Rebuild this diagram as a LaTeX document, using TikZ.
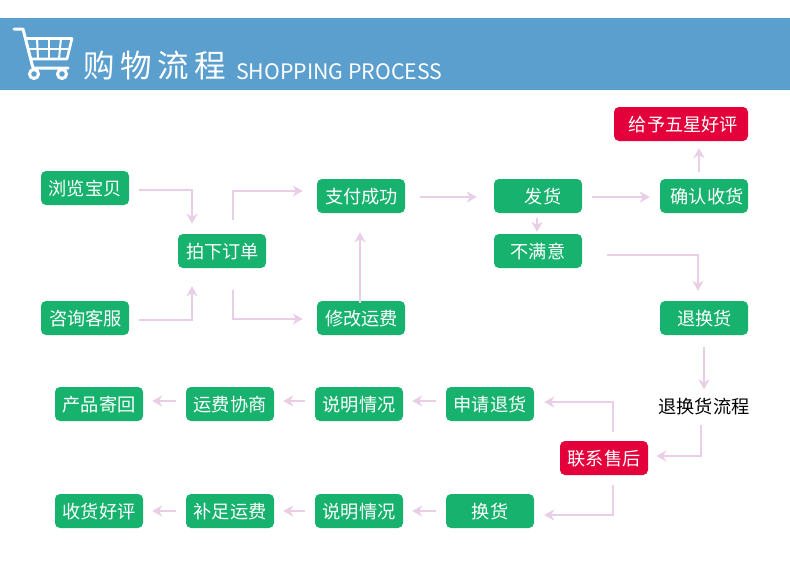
\documentclass[tikz,border=0pt]{standalone}
\usepackage{fontspec}
\setmainfont{Noto Sans CJK SC}
\usetikzlibrary{arrows.meta}
\definecolor{bannerblue}{HTML}{5B9FCE}
\definecolor{boxgreen}{HTML}{17B26E}
\definecolor{boxred}{HTML}{E4003A}
\definecolor{flowpink}{HTML}{E8CEE6}
\tikzset{
  greenbox/.style={fill=boxgreen, text=white, rounded corners=5pt, minimum width=88pt, minimum height=34pt, inner sep=0pt, text height=17pt, text depth=2pt, font=\fontsize{18.2pt}{20pt}\selectfont},
  redbox/.style={greenbox, fill=boxred},
  flow/.style={draw=flowpink, line width=2pt, -{Stealth[length=10pt,width=11pt,inset=3pt]}},
}
\begin{document}
\begin{tikzpicture}[x=1pt, y=-1pt]
  \useasboundingbox (0,0) rectangle (790,570);
  % banner
  \fill [bannerblue] (0,18) rectangle (790,90);
  \draw [white, line width=3pt, line cap=round, line join=round] (14,29) -- (23,29) -- (33,68) -- (68,68);
  \draw [white, line width=2.6pt, line join=round] (25,38.5) -- (72,38.5) -- (67,59) -- (30,59);
  \draw [white, line width=2pt] (27,48.5) -- (70,48.5);
  \foreach \xa/\xb in {37/38, 49/49, 61/59} {
    \draw [white, line width=2pt] (\xa,38) -- (\xb,59);
  }
  \draw [white, line width=3pt] (34,74) circle (4.5pt);
  \draw [white, line width=3pt] (62,74) circle (4.5pt);
  \node [anchor=base west, inner sep=0pt, text=white, font=\fontsize{31.5pt}{33pt}\selectfont\addfontfeature{LetterSpace=18}] (title) at (83,77) {购物流程};
  \node [anchor=base west, inner sep=0pt, text=white, font=\fontsize{21.3pt}{24pt}\selectfont] (subtitle) at (236,79) {SHOPPING PROCESS};

  % first rows
  \node [greenbox] (browse) at (85,188) {浏览宝贝};
  \node [greenbox] (consult) at (85,318) {\hspace{1pt}咨询客服};
  \node [greenbox] (order) at (222,251) {\hspace{1pt}拍下订单};
  \node [greenbox] (pay) at (361,196) {\hspace{1pt}支付成功};
  \node [greenbox] (modify) at (361,318) {\hspace{1pt}修改运费};
  \node [greenbox] (ship) at (538,196) {\hspace{10pt}发货};
  \node [greenbox] (unhappy) at (538,251) {不满意};
  \node [greenbox] (confirm) at (704,196) {\hspace{6pt}确认收货};
  \node [redbox, minimum width=134pt] (praise) at (681,124) {\hspace{5pt}给予五星好评};
  \node [greenbox] (return) at (704,318) {\hspace{1pt}退换货};
  \node [text=black, inner sep=0pt, font=\fontsize{18.2pt}{20pt}\selectfont] (process) at (704,407) {退换货流程};
  \node [redbox] (contact) at (604,458) {联系售后};

  % refund row
  \node [greenbox] (refund) at (490,404) {申请退货};
  \node [greenbox] (explaina) at (359,404) {说明情况};
  \node [greenbox] (freight) at (230,404) {运费协商};
  \node [greenbox] (mail) at (99,404) {产品寄回};

  % exchange row
  \node [greenbox] (exchange) at (490,511) {换货};
  \node [greenbox] (explainb) at (359,511) {说明情况};
  \node [greenbox] (topup) at (230,511) {补足运费};
  \node [greenbox] (receive) at (99,511) {收货好评};

  \draw [flow, shorten <=10pt, shorten >=10pt] ([yshift=-2pt]browse.east) -| ([xshift=-30pt]order.north);
  \draw [flow, shorten <=10pt, shorten >=18pt] ([yshift=-2pt]consult.east) -| ([xshift=-30pt]order.south);
  \draw [flow, shorten <=14pt, shorten >=14pt] ([xshift=11pt]order.north) |- ([yshift=5pt]pay.west);
  \draw [flow, shorten <=22pt, shorten >=14pt] ([xshift=11pt]order.south) |- ([yshift=-1pt]modify.west);
  \draw [flow, shorten <=-2pt, shorten >=19pt] ([xshift=-1pt]modify.north) -- ([xshift=-1pt]pay.south);
  \draw [flow, shorten <=15pt, shorten >=17pt] ([yshift=-1pt]pay.east) -- ([yshift=-1pt]ship.west);
  \draw [flow, shorten <=5pt, shorten >=2pt] ([xshift=-1pt]ship.south) -- ([xshift=-1pt]unhappy.north);
  \draw [flow, shorten <=10pt, shorten >=10pt] ([yshift=-1pt]ship.east) -- ([yshift=-1pt]confirm.west);
  \draw [flow, shorten <=7pt, shorten >=7pt] ([xshift=-5pt]confirm.north) -- ([xshift=18pt]praise.south);
  \draw [flow, shorten <=25pt, shorten >=10pt] ([yshift=-4pt]unhappy.east) -| ([xshift=-6pt]return.north);
  \draw [flow, shorten <=12pt, shorten >=9pt] (return.south) -- (process.north);
  \draw [flow, shorten <=9pt, shorten >=8pt] ([xshift=-3pt]process.south) |- ([yshift=2pt]contact.east);
  \draw [flow, shorten <=9pt, shorten >=10pt] ([xshift=9pt]contact.north) |- ([yshift=2pt]refund.east);
  \draw [flow, shorten <=10pt, shorten >=10pt] ([xshift=9pt]contact.south) |- ([yshift=-4pt]exchange.east);
  \foreach \from/\to in {refund/explaina, explaina/freight, freight/mail} {
    \draw [flow, shorten <=-1pt, shorten >=9pt] ([xshift=-11pt,yshift=3pt]\from.west) -- ([yshift=3pt]\to.east);
  }
  \foreach \from/\to in {exchange/explainb, explainb/topup, topup/receive} {
    \draw [flow, shorten <=-1pt, shorten >=9pt] ([xshift=-11pt]\from.west) -- (\to.east);
  }
\end{tikzpicture}
\end{document}
